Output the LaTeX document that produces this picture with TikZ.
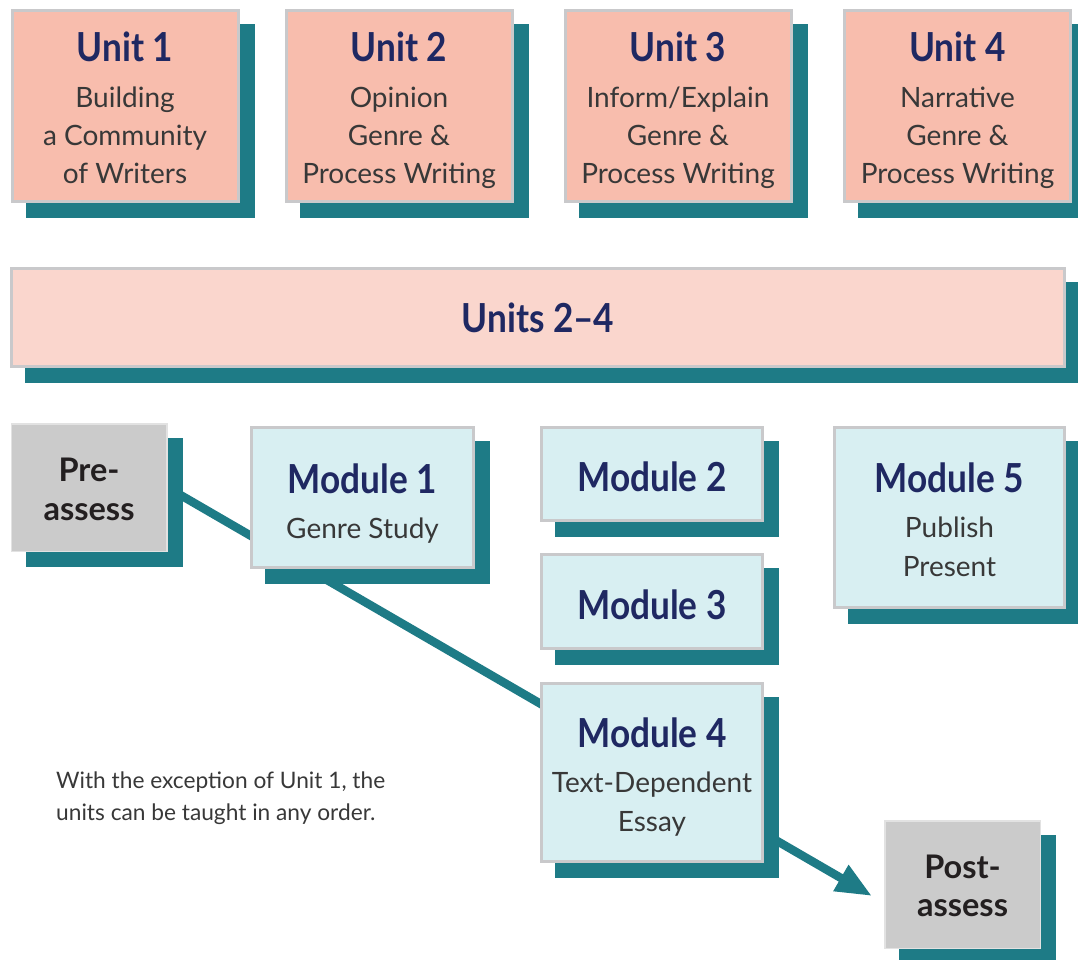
\documentclass[tikz,border=0pt]{standalone}
\usepackage{fontspec}
\setmainfont{Lato}
\newfontfamily\titlefam{Lato}[FakeStretch=0.88]
\usetikzlibrary{arrows.meta}
\definecolor{shadowteal}{HTML}{1E7B86}
\definecolor{unitfill}{HTML}{F8BDAD}
\definecolor{barfill}{HTML}{FAD6CD}
\definecolor{modfill}{HTML}{D8EFF2}
\definecolor{grayfill}{HTML}{CBCBCB}
\definecolor{bordergray}{HTML}{C9C9CB}
\definecolor{grayedge}{HTML}{E2E2E2}
\definecolor{navy}{HTML}{1F2862}
\definecolor{textgray}{HTML}{383838}
\definecolor{darktext}{HTML}{231F20}
\pgfdeclarelayer{linelayer}
\pgfdeclarelayer{shadowlayer}
\pgfsetlayers{linelayer,shadowlayer,main}
\newcommand\ttl[1]{{\titlefam\bfseries\fontsize{40}{40}\selectfont\color{navy}#1}}
\tikzset{
  boxbase/.style={rectangle, align=center, inner sep=0pt, outer sep=1.5pt,
    line width=3pt, draw=bordergray, text=textgray,
    font=\fontsize{28}{38.5}\selectfont},
  unitbox/.style={boxbase, fill=unitfill, minimum width=226pt, minimum height=191pt},
  barbox/.style={boxbase, fill=barfill, minimum width=1053pt, minimum height=98pt},
  modbox/.style={boxbase, fill=modfill},
  graybox/.style={rectangle, align=center, inner sep=0pt, outer sep=0.75pt,
    line width=1.5pt, draw=grayedge, fill=grayfill, text=darktext,
    minimum width=155.5pt, minimum height=127.5pt,
    font=\bfseries\fontsize{32.5}{38.5}\selectfont},
  conn/.style={draw=shadowteal, line width=8.5pt,
    -{Triangle[length=36pt,width=28pt]}},
  notetext/.style={inner sep=0pt, align=left, text=textgray,
    font=\fontsize{22.7}{32.5}\selectfont}
}
\begin{document}
\begin{tikzpicture}[x=1pt,y=-1pt]
\useasboundingbox (0,0) rectangle (1078,960);
% units
\node[unitbox] (u1) at (125,106) {\rule{0pt}{42pt}\ttl{Unit 1}\\[6.5pt]Building\\a Community\\of Writers\rule[-8pt]{0pt}{8pt}};
\node[unitbox] (u2) at (399,106) {\rule{0pt}{42pt}\ttl{Unit 2}\\[6.5pt]Opinion\\Genre \&\\Process Writing\rule[-8pt]{0pt}{8pt}};
\node[unitbox] (u3) at (678,106) {\rule{0pt}{42pt}\ttl{Unit 3}\\[6.5pt]Inform/Explain\\Genre \&\\Process Writing\rule[-8pt]{0pt}{8pt}};
\node[unitbox] (u4) at (957.5,106) {\rule{0pt}{42pt}\ttl{Unit 4}\\[6.5pt]Narrative\\Genre \&\\Process Writing\rule[-8pt]{0pt}{8pt}};
\node[barbox] (units) at (538,317.5) {\rule{0pt}{31pt}\ttl{Units 2–4}};
% assessments
\node[graybox] (pre) at (89,487.5) {\rule{0pt}{27pt}Pre-\\assess};
\node[graybox] (post) at (962.5,884.5) {\rule{0pt}{26pt}Post-\\assess};
% modules
\node[modbox, minimum width=222pt, minimum height=140pt] (m1) at (362.5,497.5) {\rule{0pt}{44pt}\ttl{Module 1}\\[6.5pt]Genre Study\rule[-8pt]{0pt}{8pt}};
\node[modbox, minimum width=221pt, minimum height=93pt] (m2) at (652,474) {\rule{0pt}{36pt}\ttl{Module 2}};
\node[modbox, minimum width=221pt, minimum height=94pt] (m3) at (652,601.5) {\rule{0pt}{37pt}\ttl{Module 3}};
\node[modbox, minimum width=221pt, minimum height=178pt] (m4) at (652,772.5) {\rule{0pt}{42pt}\ttl{Module 4}\\[6.5pt]Text-Dependent\\Essay\rule[-8pt]{0pt}{8pt}};
\node[modbox, minimum width=230pt, minimum height=180pt] (m5) at (949.5,517.5) {\rule{0pt}{42pt}\ttl{Module 5}\\[6.5pt]Publish\\Present\rule[-8pt]{0pt}{8pt}};
% note
\node[notetext, anchor=north west] (note) at (56,770) {\rule{0pt}{18pt}With the exception of Unit 1, the\\units can be taught in any order.};
% shadows
\begin{pgfonlayer}{shadowlayer}
\foreach \n in {u1,u2,u3,u4,units,pre,post,m1,m2,m3,m4,m5}
  \fill[shadowteal] ([shift={(15pt,-15pt)}]\n.south west) rectangle ([shift={(15pt,-15pt)}]\n.north east);
\end{pgfonlayer}
% connector
\coordinate (tip) at (872,896);
\begin{pgfonlayer}{linelayer}
\draw[conn] (pre.east) -- (tip);
\end{pgfonlayer}
\end{tikzpicture}
\end{document}
